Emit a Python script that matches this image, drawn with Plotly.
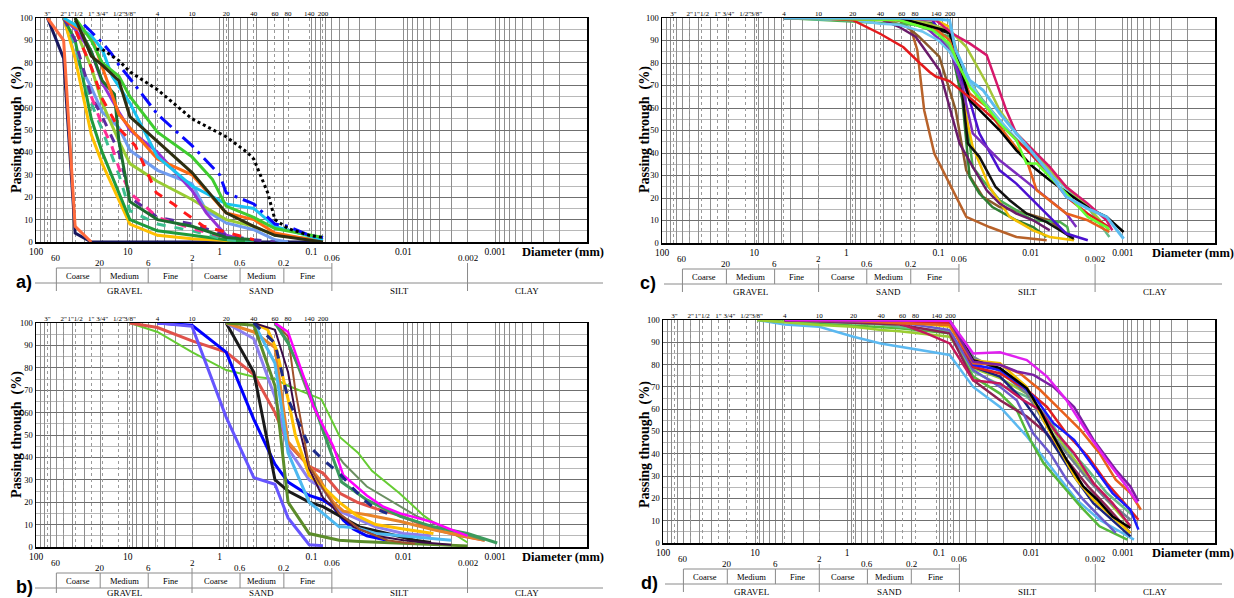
import math
import plotly.graph_objects as go

W, H = 1234, 598
SERIF = "Liberation Serif, 'Times New Roman', serif"
SANS = "Liberation Sans, Arial, sans-serif"

# ---------------- axis furniture values ----------------
sieve_mm = [75, 50, 37.5, 25, 19, 12.5, 9.5, 4.75, 2.0, 0.85, 0.425, 0.25, 0.18, 0.106, 0.075]
sieve_lbl = ['3"', '2"', '1"1/2', '1"', '3/4"', '1/2"', '3/8"', '4', '10', '20', '40', '60', '80', '140', '200']
diam_decades = [100, 10, 1, 0.1, 0.01, 0.001]
diam_lbls = ['100', '10', '1', '0.1', '0.01', '0.001']
yticks = list(range(0, 101, 10))
bound_main = [60, 2, 0.06, 0.002]
bound_main_lbl = ['60', '2', '0.06', '0.002']
bound_sub = [20, 6, 0.6, 0.2]
bound_sub_lbl = ['20', '6', '0.6', '0.2']
sub_names = ['Coarse', 'Medium', 'Fine', 'Coarse', 'Medium', 'Fine']
sub_edges = [60, 20, 6, 2, 0.6, 0.2, 0.06]
class_names = ['GRAVEL', 'SAND', 'SILT', 'CLAY']
class_edges = [60, 2, 0.06, 0.002, 0.0001]

# ---------------- panel a data (diameter mm, % passing) ----------------
a_navy_d = [75, 50, 37.5, 25, 0.075]
a_navy_p = [100, 82, 4, 0, 0]
a_coral_d = [75, 50, 37.5, 25]
a_coral_p = [100, 90, 7, 0]
a_yellow_d = [50, 37.5, 25, 19, 9.5, 4.75, 2, 0.85, 0.425]
a_yellow_p = [100, 82, 48, 35, 8, 3, 1.5, 0.5, 0]
a_green_d = [50, 37.5, 25, 19, 9.5, 4.75, 2, 0.85, 0.425]
a_green_p = [100, 90, 55, 40, 10, 5, 3, 1, 0]
a_dkgreen_d = [37.5, 25, 19, 14, 12.5, 9.5, 4.75, 2, 0.85, 0.425]
a_dkgreen_p = [99, 85, 72, 66, 45, 18, 10, 7, 2, 1]
a_teal_d = [50, 37.5, 25, 19, 12.5, 9.5, 4.75, 2, 0.85, 0.425]
a_teal_p = [100, 88, 62, 50, 30, 14, 8, 5, 1, 0]
a_purpdash_d = [50, 37.5, 25, 19, 12.5, 9.5, 4.75, 2, 0.85, 0.425, 0.25]
a_purpdash_p = [100, 90, 65, 56, 40, 20, 11, 8, 3, 1, 0]
a_pink_d = [25, 19, 15, 12.5, 9.5, 4.75, 2, 0.85]
a_pink_p = [65, 52, 43, 33, 22, 11, 6, 2]
a_red_d = [50, 37.5, 25, 19, 12.7, 8.3, 4.9, 3.2, 2.4, 1.5, 1.07, 0.425]
a_red_p = [100, 95, 78, 64, 51, 43, 22, 17, 13, 7, 5.5, 1]
a_blue_d = [30, 19, 15, 12.5, 9.5, 4.75, 2, 1.0, 0.85, 0.425, 0.25, 0.18, 0.106, 0.075]
a_blue_p = [97, 89, 84, 79, 73, 57, 43, 30, 22, 17, 8, 7, 3, 2]
a_black_d = [22, 19, 12.5, 9.5, 4.75, 2, 0.85, 0.5, 0.425, 0.3, 0.25, 0.18, 0.106, 0.075]
a_black_p = [86, 86, 81, 76, 68, 55, 47, 40, 37, 22, 10, 6, 3, 2]
a_cyan_d = [50, 37.5, 25, 19, 14.8, 9.5, 4.75, 2, 0.85, 0.425, 0.25, 0.075]
a_cyan_p = [100, 97, 92, 86, 74, 62, 38, 25, 17, 15, 7, 1]
a_orange_d = [50, 37.5, 25, 19, 12.5, 9.5, 4.75, 2, 0.85, 0.425, 0.25, 0.075]
a_orange_p = [100, 96, 92, 78, 57, 51, 37, 30, 13, 10, 4, 0]
a_olive_d = [37.5, 25, 19, 12.5, 9.5, 4.75, 2, 0.85, 0.425, 0.25, 0.106, 0.075]
a_olive_p = [100, 83, 79, 72, 56, 45, 31, 13, 7, 3, 1, 0]
a_lime_d = [37.5, 25, 19, 12.5, 9.5, 4.75, 2, 1.2, 0.85, 0.425, 0.25, 0.075]
a_lime_p = [100, 90, 80, 74, 65, 49, 38, 28, 16, 11, 6, 2]
a_violet_d = [50, 37.5, 25, 19, 12.5, 9.5, 4.75, 2, 1.4, 0.85, 0.425]
a_violet_p = [100, 95, 85, 71, 58, 50, 40, 23, 13, 3, 0]
a_ygreen_d = [37.5, 25, 19, 12.5, 9.5, 4.75, 2, 0.85, 0.425, 0.25, 0.075]
a_ygreen_p = [95, 78, 62, 45, 35, 27, 19, 10, 7, 3, 1]
a_cornflower_d = [50, 37.5, 25, 19, 12.5, 9.5, 4.75, 2, 1.4, 0.85, 0.425, 0.25, 0.18]
a_cornflower_p = [100, 83, 69, 58, 51, 41, 32, 26, 14, 8.5, 5.5, 1, 0]

# ---------------- panel b data ----------------
b_lgreen_d = [9.5, 4.75, 2, 0.85, 0.425, 0.25, 0.18, 0.106, 0.078, 0.049, 0.031, 0.022, 0.011, 0.006, 0.0047, 0.0034, 0.0026, 0.002]
b_lgreen_p = [100, 96, 87, 79, 76, 75, 72, 68, 66, 49, 42, 34, 24, 14, 11, 8, 5, 2]
b_salmon_d = [9.5, 4.75, 2, 0.85, 0.425, 0.25, 0.18, 0.106, 0.075, 0.049, 0.032, 0.0195, 0.0108, 0.0047, 0.0024, 0.0013]
b_salmon_p = [100, 98, 92, 87, 77, 60, 46, 36, 33, 24, 20, 17, 14, 8, 5, 3]
b_blue_d = [4.75, 2, 0.85, 0.425, 0.25, 0.18, 0.106, 0.075, 0.058, 0.045, 0.035, 0.025, 0.015]
b_blue_p = [100, 99, 87, 57, 37, 29, 23, 21, 18, 12, 8, 5, 3]
b_slate_d = [4.75, 2, 0.85, 0.425, 0.25, 0.18, 0.106, 0.075]
b_slate_p = [100, 98.5, 58, 31, 28, 13, 1, 0.6]
b_black_d = [0.85, 0.425, 0.25, 0.18, 0.106, 0.075, 0.05, 0.03, 0.015, 0.0075, 0.005]
b_black_p = [100, 78, 30, 25, 20, 18, 14, 9, 6, 3, 2]
b_mpurple_d = [0.85, 0.425, 0.25, 0.18, 0.106, 0.075, 0.05, 0.03, 0.02, 0.01, 0.005]
b_mpurple_p = [100, 93, 67, 44, 30, 26, 16, 12, 9, 6, 5]
b_orange_d = [0.85, 0.425, 0.25, 0.18, 0.106, 0.081, 0.058, 0.045, 0.025, 0.011, 0.0047, 0.0013]
b_orange_p = [100, 96, 89, 47, 36, 30, 20, 16, 14.4, 11.5, 7.7, 3]
b_yellow_d = [0.425, 0.3, 0.24, 0.18, 0.15, 0.106, 0.075, 0.05, 0.032, 0.02, 0.01, 0.0047]
b_yellow_p = [100, 97, 88, 66, 50, 32, 27, 20, 14, 10, 8, 6]
b_sky_d = [0.425, 0.25, 0.18, 0.106, 0.075, 0.05, 0.045, 0.032, 0.02, 0.011, 0.006, 0.003]
b_sky_p = [100, 82, 42, 20, 15, 9, 9, 8.5, 6, 5, 4, 3]
b_olive_d = [0.85, 0.425, 0.25, 0.18, 0.106, 0.075, 0.05, 0.03, 0.011, 0.005, 0.002]
b_olive_p = [100, 99, 72, 20, 6, 4.5, 3, 2.5, 1.8, 1, 0.5]
b_dpurple_d = [0.425, 0.25, 0.18, 0.15, 0.106, 0.075, 0.05, 0.035, 0.02, 0.01, 0.006, 0.003]
b_dpurple_p = [100, 97, 78, 60, 35, 22, 15, 9, 5, 3, 2, 1]
b_navy_d = [0.425, 0.25, 0.18, 0.106, 0.075, 0.05, 0.035, 0.025, 0.02, 0.015]
b_navy_p = [100, 91, 66, 45, 39, 33, 26, 20, 17, 15]
b_brown_d = [0.25, 0.18, 0.15, 0.106, 0.075, 0.05, 0.03, 0.02, 0.015, 0.01, 0.0075]
b_brown_p = [100, 94, 70, 36, 26, 15, 8, 5, 3, 2, 1.5]
b_magenta_d = [0.25, 0.18, 0.106, 0.096, 0.058, 0.045, 0.025, 0.0165, 0.0108, 0.0047, 0.0031, 0.002]
b_magenta_p = [100, 96, 69, 63, 45, 32, 23, 18, 15, 11, 8, 5]
b_seagreen_d = [0.25, 0.18, 0.106, 0.075, 0.047, 0.025, 0.0108, 0.0047, 0.002, 0.00095]
b_seagreen_p = [100, 91, 70, 52, 29, 21, 13.7, 9, 6, 1.8]
b_graygreen_d = [0.25, 0.18, 0.106, 0.075, 0.06, 0.045, 0.025, 0.0108, 0.0071, 0.0031, 0.0013]
b_graygreen_p = [100, 92, 67, 53, 45, 37.5, 27, 18, 13.7, 7.7, 3]

# ---------------- panel c data ----------------
c_red_d = [2, 0.85, 0.43, 0.24, 0.16, 0.125, 0.107, 0.076, 0.0425, 0.028, 0.0169, 0.0102, 0.0067, 0.0041, 0.0024, 0.0014]
c_red_p = [100, 99, 93, 87, 80, 76, 74, 72, 63.5, 57, 48.7, 40, 32, 20.5, 13, 7]
c_crimson_d = [4.75, 0.25, 0.107, 0.070, 0.046, 0.030, 0.024, 0.0184, 0.0143, 0.0094, 0.0062, 0.0041, 0.0024, 0.0015, 0.0013]
c_crimson_p = [100, 100, 99, 93, 88.7, 83.5, 72.4, 59, 48.7, 41.2, 33.8, 24.9, 17.5, 10.1, 5.6]
c_sky_d = [4.75, 0.25, 0.106, 0.076, 0.065, 0.046, 0.033, 0.0217, 0.0143, 0.0094, 0.0062, 0.0041, 0.0024, 0.0015, 0.00098]
c_sky_p = [100, 100, 99.5, 99, 85.8, 72.4, 68, 57.6, 48.7, 39.8, 30.9, 20.5, 15.3, 11.6, 1.9]
c_ltblue_d = [4.75, 0.85, 0.425, 0.269, 0.15, 0.1, 0.076, 0.05, 0.035, 0.02, 0.012, 0.007, 0.004, 0.0025]
c_ltblue_p = [100, 99, 97.5, 97, 94, 90, 85, 74, 64, 53, 43, 33, 24, 16]
c_black_d = [4.75, 0.269, 0.076, 0.065, 0.046, 0.033, 0.0217, 0.0143, 0.0094, 0.0062, 0.0034, 0.0023, 0.0015, 0.00098]
c_black_p = [100, 100, 94, 86, 63.5, 57.6, 50.1, 41.2, 33.8, 27.9, 20.5, 15.3, 11.6, 4.9]
c_black2_d = [4.75, 0.425, 0.18, 0.106, 0.076, 0.059, 0.048, 0.036, 0.024, 0.0169, 0.0111, 0.0067, 0.0041, 0.0034]
c_black2_p = [100, 100, 98, 95, 93.2, 78.3, 44.2, 38.3, 24.9, 19, 13.1, 9.3, 4.2, 1.9]
c_lime_d = [4.75, 0.269, 0.116, 0.076, 0.059, 0.046, 0.030, 0.0217, 0.0143, 0.0111, 0.0086, 0.0062, 0.0041, 0.0024, 0.0014]
c_lime_p = [100, 99.1, 94.7, 88.7, 78.3, 69.4, 60.5, 53.1, 45.7, 35.3, 35.3, 29.4, 22, 11.6, 6.4]
c_orange_d = [4.75, 0.269, 0.116, 0.076, 0.046, 0.030, 0.0217, 0.0111, 0.0086, 0.0062, 0.0041, 0.0024, 0.0014]
c_orange_p = [100, 99, 96.1, 90.2, 66.5, 60.5, 51.6, 36.8, 23.4, 19, 13.1, 10.1, 4.9]
c_ygreen_d = [4.75, 0.177, 0.076, 0.050, 0.030, 0.0217, 0.0143, 0.0094, 0.0062, 0.0041, 0.0024, 0.0014]
c_ygreen_p = [100, 99, 94.7, 87.2, 70.9, 59, 48.7, 41.2, 32.3, 24.9, 16, 5.6]
c_aqua_d = [4.75, 0.269, 0.116, 0.076, 0.050, 0.033, 0.0217, 0.0143, 0.0094, 0.0062, 0.0041, 0.0024, 0.0014]
c_aqua_p = [100, 99, 96.1, 87.2, 73.9, 63.5, 54.6, 45.7, 39.8, 30.9, 24.9, 16, 2.7]
c_violet_d = [4.75, 0.177, 0.076, 0.055, 0.0425, 0.030, 0.0217, 0.0143, 0.0094, 0.0062, 0.0041, 0.0032]
c_violet_p = [100, 99.9, 86.5, 69.4, 48.7, 42.7, 36.8, 30.9, 24.9, 19, 13.1, 7.1]
c_indigo_d = [4.75, 0.116, 0.065, 0.046, 0.036, 0.0217, 0.0143, 0.0094, 0.0062, 0.0041, 0.0024]
c_indigo_p = [100, 99.1, 81.3, 63.5, 48.7, 32.3, 26.4, 19, 11.6, 4.2, 1.2]
c_gold_d = [4.75, 0.106, 0.076, 0.059, 0.050, 0.0425, 0.028, 0.0169, 0.0094, 0.0062, 0.0034]
c_gold_p = [100, 99, 96.1, 81.3, 56.1, 42.7, 24.9, 11.6, 5.6, 2.7, 1.2]
c_dkgreen_d = [4.75, 0.25, 0.116, 0.070, 0.055, 0.046, 0.036, 0.026, 0.0143, 0.0094, 0.0067]
c_dkgreen_p = [100, 99.5, 97.6, 82.8, 63.5, 29.4, 22, 16, 10.1, 7.1, 2.7]
c_green_d = [4.75, 0.18, 0.076, 0.055, 0.0425, 0.033, 0.0217, 0.0094, 0.0048, 0.0040, 0.0037]
c_green_p = [100, 97, 91.7, 69.4, 33.8, 27.9, 19, 10.1, 9.3, 7.1, 1.2]
c_brown_d = [4.75, 0.425, 0.269, 0.163, 0.098, 0.065, 0.050, 0.033, 0.0217, 0.0111, 0.0062, 0.0034]
c_brown_p = [100, 100, 99.1, 91.7, 82.8, 59, 32.3, 20.5, 16, 13.1, 10.1, 1.2]
c_sienna_d = [4.75, 0.425, 0.20, 0.17, 0.143, 0.111, 0.076, 0.050, 0.028, 0.0143, 0.0067]
c_sienna_p = [100, 100, 95.4, 85.8, 59, 39.8, 26.4, 11.6, 7.1, 2.7, 1.2]
c_plum_d = [4.75, 0.425, 0.269, 0.177, 0.098, 0.059, 0.0425, 0.030, 0.0217, 0.0143, 0.0094, 0.0062]
c_plum_p = [100, 99.5, 96.1, 91.7, 76.9, 44.2, 33.8, 23.4, 17.5, 13.1, 10.1, 5.6]

# ---------------- panel d data ----------------
d_sky_d = [9.5, 4.75, 2, 0.85, 0.43, 0.19, 0.125, 0.0765, 0.0425, 0.0217, 0.0111, 0.0062, 0.0032, 0.0018, 0.00076]
d_sky_p = [100, 98, 97, 92.5, 89.5, 87, 86, 84.3, 70, 61, 47.8, 34.3, 19.4, 10.4, 1.5]
d_magenta_d = [4.75, 0.269, 0.0765, 0.0425, 0.0217, 0.0111, 0.0067, 0.0041, 0.0024, 0.0015, 0.0009, 0.0007]
d_magenta_p = [100, 100, 99.7, 85, 85.5, 82, 74.6, 64, 49, 37, 25, 18]
d_purple_d = [4.75, 0.269, 0.0765, 0.0425, 0.0217, 0.0143, 0.0094, 0.0057, 0.0034, 0.0021, 0.0012, 0.00083, 0.00068]
d_purple_p = [100, 100, 99.7, 81.3, 79.9, 76.9, 75.4, 70, 61, 46.3, 32.8, 25.4, 18.7]
d_orange_d = [4.75, 0.85, 0.269, 0.0765, 0.0425, 0.0217, 0.0131, 0.0080, 0.0048, 0.0029, 0.0018, 0.0012, 0.00083, 0.00064]
d_orange_p = [100, 99.5, 98.5, 97.8, 80.6, 79.9, 76, 68.7, 59.7, 50.7, 40.3, 28.4, 22.4, 14.9]
d_black_d = [4.75, 0.269, 0.0765, 0.0425, 0.0217, 0.0111, 0.0080, 0.0057, 0.0041, 0.0027, 0.0019, 0.0013, 0.00083]
d_black_p = [100, 100, 99.7, 82, 78.4, 69.4, 59.7, 47.8, 37.3, 25.4, 19.4, 11.9, 6.7]
d_blue_d = [4.75, 0.269, 0.0765, 0.0425, 0.0217, 0.0121, 0.0086, 0.0057, 0.0034, 0.0021, 0.0013, 0.00083, 0.00068]
d_blue_p = [100, 100, 99.7, 79.9, 77.6, 70, 64, 53.7, 46.3, 34.3, 22.4, 14.9, 6]
d_navy_d = [4.75, 0.269, 0.0765, 0.0425, 0.0217, 0.0121, 0.0080, 0.0052, 0.0034, 0.0021, 0.0013, 0.00083]
d_navy_p = [100, 100, 99.7, 79, 74.6, 64, 53.7, 41.8, 29.9, 17.9, 10.4, 3]
d_crimson_d = [4.75, 0.425, 0.269, 0.137, 0.0765, 0.0425, 0.0217, 0.0121, 0.0080, 0.0052, 0.0034, 0.0021, 0.0013, 0.00083]
d_crimson_p = [100, 99.5, 98.5, 94, 89.5, 73, 71.6, 64, 59.7, 49, 40.3, 26.9, 17.9, 7.5]
d_green_d = [9.5, 2, 0.85, 0.425, 0.269, 0.0765, 0.0425, 0.0217, 0.0143, 0.0102, 0.0073, 0.0048, 0.0029, 0.0018, 0.0009]
d_green_p = [100, 98.5, 97.5, 97, 96.3, 94, 74.6, 67, 59.7, 46.3, 35.8, 26.9, 16.4, 7.5, 1.5]
d_slate_d = [4.75, 0.269, 0.0765, 0.0425, 0.0217, 0.0143, 0.0094, 0.0062, 0.0041, 0.0027, 0.0018, 0.0012]
d_slate_p = [100, 99, 95.5, 77.6, 70, 64, 49, 40.3, 28.4, 19.4, 11.9, 4.5]
d_aqua_d = [4.75, 0.85, 0.425, 0.269, 0.0765, 0.0425, 0.0217, 0.0111, 0.0067, 0.0041, 0.0024, 0.0015, 0.00076]
d_aqua_p = [100, 98.5, 98, 97, 94.8, 76.9, 70.9, 65.7, 56.7, 43.3, 32.8, 22.4, 11.9]
d_wine_d = [4.75, 0.269, 0.0765, 0.0425, 0.0217, 0.0111, 0.0067, 0.0041, 0.0024, 0.0015, 0.00083]
d_wine_p = [100, 98, 94, 73, 64, 56.7, 49, 37.3, 25.4, 16.4, 4.5]
d_ygreen_d = [9.5, 2, 0.85, 0.425, 0.269, 0.0765, 0.0425, 0.0217, 0.0111, 0.0067, 0.0041, 0.0024, 0.0015, 0.00083]
d_ygreen_p = [100, 97.8, 97, 95.5, 95, 92.5, 78.4, 73.9, 67, 55, 41.8, 29.9, 19.4, 7.5]
d_gold_d = [4.75, 0.269, 0.0765, 0.0425, 0.0217, 0.0111, 0.0073, 0.0048, 0.0032, 0.0021, 0.0013, 0.00083]
d_gold_p = [100, 99.5, 97, 82, 80.6, 70, 55, 41.8, 28.4, 19.4, 11.9, 4.5]
d_red_d = [4.75, 0.269, 0.0765, 0.0425, 0.0217, 0.0111, 0.0067, 0.0041, 0.0024, 0.0015, 0.0009, 0.00068]
d_red_p = [100, 99.5, 98.5, 79, 76, 68.7, 61, 49, 38.8, 26.9, 16.4, 10.4]
d_gray_d = [4.75, 0.269, 0.0765, 0.0425, 0.0217, 0.0111, 0.0067, 0.0041, 0.0024, 0.0015, 0.00083]
d_gray_p = [100, 100, 99.7, 83.5, 76.9, 67, 52.2, 40.3, 28.4, 19.4, 10.4]

# ---------------- series tables (data + style) ----------------
series_a = [
    (a_navy_d, a_navy_p, '#17175e', 'solid', 3),
    (a_coral_d, a_coral_p, '#ff6b3d', 'solid', 3),
    (a_cornflower_d, a_cornflower_p, '#6f9bef', 'solid', 3),
    (a_ygreen_d, a_ygreen_p, '#99cc33', 'solid', 3),
    (a_violet_d, a_violet_p, '#9331d6', 'solid', 3),
    (a_yellow_d, a_yellow_p, '#ffc000', 'solid', 3),
    (a_green_d, a_green_p, '#1f9a3c', 'solid', 3),
    (a_teal_d, a_teal_p, '#3cbf8f', 'dash', 3),
    (a_purpdash_d, a_purpdash_p, '#5b2ca0', 'dash', 3),
    (a_pink_d, a_pink_p, '#ff2d95', 'dash', 3),
    (a_dkgreen_d, a_dkgreen_p, '#1b6e2e', 'solid', 3),
    (a_red_d, a_red_p, '#ff1a1a', 'dash', 3),
    (a_orange_d, a_orange_p, '#ff6a13', 'solid', 3),
    (a_cyan_d, a_cyan_p, '#19c3f0', 'solid', 3),
    (a_lime_d, a_lime_p, '#3fcc2f', 'solid', 3),
    (a_olive_d, a_olive_p, '#2f2f12', 'solid', 3),
    (a_blue_d, a_blue_p, '#0a0aff', 'longdashdot', 3),
    (a_black_d, a_black_p, '#000000', 'dot', 3),
]
series_b = [
    (b_lgreen_d, b_lgreen_p, '#66cc33', 'solid', 2),
    (b_salmon_d, b_salmon_p, '#e0524a', 'solid', 3),
    (b_blue_d, b_blue_p, '#0000ff', 'solid', 3),
    (b_slate_d, b_slate_p, '#6655ff', 'solid', 3),
    (b_black_d, b_black_p, '#1a1a1a', 'solid', 3),
    (b_mpurple_d, b_mpurple_p, '#8c7ff0', 'solid', 3),
    (b_orange_d, b_orange_p, '#e8842a', 'solid', 3),
    (b_yellow_d, b_yellow_p, '#ffc000', 'solid', 3),
    (b_sky_d, b_sky_p, '#4db8f0', 'solid', 3),
    (b_olive_d, b_olive_p, '#5b8c2a', 'solid', 3),
    (b_dpurple_d, b_dpurple_p, '#3b0a45', 'solid', 2),
    (b_brown_d, b_brown_p, '#a0522d', 'solid', 2),
    (b_graygreen_d, b_graygreen_p, '#6b8f62', 'solid', 2),
    (b_seagreen_d, b_seagreen_p, '#3c9a5c', 'solid', 3),
    (b_magenta_d, b_magenta_p, '#ff00ff', 'solid', 2.5),
    (b_navy_d, b_navy_p, '#1c2a8a', 'dash', 3),
]
series_c = [
    (c_sienna_d, c_sienna_p, '#b8622a', 'solid', 2.5),
    (c_brown_d, c_brown_p, '#8b5a2b', 'solid', 2.5),
    (c_dkgreen_d, c_dkgreen_p, '#2e7d32', 'solid', 2.5),
    (c_green_d, c_green_p, '#4caf50', 'solid', 2.5),
    (c_gold_d, c_gold_p, '#f5c000', 'solid', 2.5),
    (c_plum_d, c_plum_p, '#6a1b6a', 'solid', 2.5),
    (c_black2_d, c_black2_p, '#111111', 'solid', 2.5),
    (c_indigo_d, c_indigo_p, '#4b10d0', 'solid', 2.5),
    (c_violet_d, c_violet_p, '#7b2cbf', 'solid', 2.5),
    (c_aqua_d, c_aqua_p, '#66bb88', 'solid', 2.5),
    (c_ltblue_d, c_ltblue_p, '#6ec6f0', 'solid', 2.5),
    (c_ygreen_d, c_ygreen_p, '#a4c639', 'solid', 2.5),
    (c_orange_d, c_orange_p, '#e8601c', 'solid', 2.5),
    (c_black_d, c_black_p, '#000000', 'solid', 2.5),
    (c_red_d, c_red_p, '#e31a1c', 'solid', 2.5),
    (c_lime_d, c_lime_p, '#66ff33', 'solid', 2.5),
    (c_crimson_d, c_crimson_p, '#d6186b', 'solid', 2.5),
    (c_sky_d, c_sky_p, '#5bbcf0', 'solid', 3),
]
series_d = [
    (d_sky_d, d_sky_p, '#5bb8f0', 'solid', 2.5),
    (d_green_d, d_green_p, '#55b83a', 'solid', 2.5),
    (d_ygreen_d, d_ygreen_p, '#9acd32', 'solid', 2.5),
    (d_aqua_d, d_aqua_p, '#66bb88', 'solid', 2.5),
    (d_wine_d, d_wine_p, '#8b2252', 'solid', 2.5),
    (d_slate_d, d_slate_p, '#6a5acd', 'solid', 2.5),
    (d_gray_d, d_gray_p, '#708090', 'solid', 2.5),
    (d_navy_d, d_navy_p, '#1a237e', 'solid', 2.5),
    (d_gold_d, d_gold_p, '#f0c000', 'solid', 2.5),
    (d_crimson_d, d_crimson_p, '#c2185b', 'solid', 2.5),
    (d_red_d, d_red_p, '#e02020', 'solid', 2.5),
    (d_blue_d, d_blue_p, '#1a1aff', 'solid', 2.5),
    (d_black_d, d_black_p, '#000000', 'solid', 2.5),
    (d_orange_d, d_orange_p, '#e8601c', 'solid', 2.5),
    (d_purple_d, d_purple_p, '#7b1fa2', 'solid', 2.5),
    (d_magenta_d, d_magenta_p, '#e020f0', 'solid', 2.5),
]

# panel geometry in pixels:
# key, axis n, overlay n, x0, x1, ytop, ybot, label x, title x, title y, line x0, line x1, diameter-label x, class-name offset
PANELS = [
    ('a', 1, 5, 36, 587, 18, 242, 24, 17, 130, 35, 603, 520, 48.5, series_a),
    ('b', 2, 6, 36, 587, 323, 547, 24, 17, 435, 35, 603, 520, 45.5, series_b),
    ('c', 3, 7, 662, 1215, 18, 243, 648, 645, 130, 664, 1222, 1150, 48.5, series_c),
    ('d', 4, 8, 663, 1215, 320, 543, 649, 645, 445, 665, 1222, 1150, 48.5, series_d),
]

grid_vals = []
grid_txt = []
for k in range(2, -5, -1):
    for m in range(1, 10):
        v = m * 10.0 ** k
        if v > 100 or v < 1e-4:
            continue
        grid_vals.append(v)
        grid_txt.append(diam_lbls[diam_decades.index(10.0 ** k)] if (m == 1 and 10.0 ** k in diam_decades) else '')


def yp(p):
    return 1 - p / H


def xp(p):
    return p / W


fig = go.Figure()
shapes = []
annots = []
layout_axes = {}


def note(text, x, y, xref, size, family=SERIF, xanchor='center', **kw):
    annots.append(dict(text=text, x=x, y=y, xref=xref, yref='paper', showarrow=False,
                       xanchor=xanchor, yanchor='middle',
                       font=dict(family=family, size=size, color='black'), **kw))


for key, n, on, x0, x1, yt, yb, lab_x, tit_x, tit_y, lx0, lx1, dia_x, cls_off, series in PANELS:
    xs = 'x' if n == 1 else f'x{n}'
    ys = 'y' if n == 1 else f'y{n}'
    xo = f'x{on}'
    for d, p, col, dash, w in series:
        fig.add_trace(go.Scatter(x=d, y=p, mode='lines', xaxis=xs, yaxis=ys,
                                 line=dict(color=col, width=w, dash=dash),
                                 showlegend=False, hoverinfo='skip'))
    # dummy trace to instantiate the top sieve axis
    fig.add_trace(go.Scatter(x=sieve_mm, y=[None] * len(sieve_mm), mode='lines',
                             xaxis=xo, yaxis=ys, showlegend=False, hoverinfo='skip'))

    xname = 'xaxis' if n == 1 else f'xaxis{n}'
    yname = 'yaxis' if n == 1 else f'yaxis{n}'
    layout_axes[xname] = dict(
        type='log', range=[2, -4], domain=[xp(x0), xp(x1)], anchor=ys, automargin=False,
        tickmode='array', tickvals=grid_vals, ticktext=grid_txt, tickangle=0,
        showgrid=True, gridcolor='#8e8e8e', gridwidth=1,
        showline=True, mirror=True, linecolor='black', linewidth=1.5,
        ticks='', zeroline=False, fixedrange=True,
        tickfont=dict(family=SERIF, size=9.5, color='black'))
    layout_axes[f'xaxis{on}'] = dict(
        type='log', range=[2, -4], overlaying=xs, side='top', anchor=ys, automargin=False,
        tickmode='array', tickvals=sieve_mm, ticktext=sieve_lbl, tickangle=0,
        showgrid=True, gridcolor='#9a9a9a', griddash='dot', gridwidth=1,
        showline=False, ticks='', zeroline=False, fixedrange=True,
        tickfont=dict(family=SERIF, size=7, color='black'))
    layout_axes[yname] = dict(
        range=[0, 100], domain=[yp(yb), yp(yt)], anchor=xs, automargin=False,
        tickmode='array', tickvals=yticks,
        showgrid=True, gridcolor='#707070', gridwidth=1,
        minor=dict(tickmode='linear', tick0=0, dtick=5, showgrid=True, gridcolor='#b8b8b8', gridwidth=1),
        showline=True, mirror=True, linecolor='black', linewidth=1.5,
        ticks='', zeroline=False, fixedrange=True,
        tickfont=dict(family=SERIF, size=8.5, color='black'))

    # y title
    note('<b>Passing through  (%)</b>', xp(tit_x), yp(tit_y), 'paper', 14, textangle=-90)
    # diameter label
    note('<b>Diameter (mm)</b>', xp(dia_x), yp(yb + 10), 'paper', 12.5, xanchor='left')
    # panel letter
    note(f'<b>{key})</b>', xp(lab_x), yp(yb + 40), 'paper', 18, family=SANS)
    # classification table
    for v, t in zip(bound_main, bound_main_lbl):
        note(t, math.log10(v), yp(yb + 15.5), xs, 9)
        shapes.append(dict(type='line', xref=xs, yref='paper', x0=v, x1=v,
                           y0=yp(yb + (26 if v == 60 else 21)), y1=yp(yb + cls_off + 0.5),
                           line=dict(color='#8a8a8a', width=1)))
    for v, t in zip(bound_sub, bound_sub_lbl):
        note(t, math.log10(v), yp(yb + 21), xs, 9)
        shapes.append(dict(type='line', xref=xs, yref='paper', x0=v, x1=v,
                           y0=yp(yb + 26), y1=yp(yb + 41), line=dict(color='#8a8a8a', width=1)))
    shapes.append(dict(type='line', xref=xs, yref='paper', x0=sub_edges[0], x1=sub_edges[-1],
                       y0=yp(yb + 26), y1=yp(yb + 26), line=dict(color='#8a8a8a', width=1)))
    shapes.append(dict(type='line', xref='paper', yref='paper', x0=xp(lx0), x1=xp(lx1),
                       y0=yp(yb + 41), y1=yp(yb + 41), line=dict(color='#8a8a8a', width=1)))
    for i, nm in enumerate(sub_names):
        mid = (math.log10(sub_edges[i]) + math.log10(sub_edges[i + 1])) / 2
        note(nm, mid, yp(yb + 34), xs, 8.5)
    for i, nm in enumerate(class_names):
        mid = (math.log10(class_edges[i]) + math.log10(class_edges[i + 1])) / 2
        note(nm, mid, yp(yb + cls_off), xs, 9)

fig.update_layout(
    template='none',
    width=W, height=H, autosize=False,
    margin=dict(l=0, r=0, t=0, b=0, pad=0),
    paper_bgcolor='white', plot_bgcolor='white',
    showlegend=False,
    font=dict(family=SERIF, color='black'),
    shapes=shapes, annotations=annots,
    **layout_axes,
)

fig.write_html("out.html", config={'displayModeBar': False, 'staticPlot': True},
               post_script="document.body.style.margin='0';document.body.style.overflow='hidden';")
